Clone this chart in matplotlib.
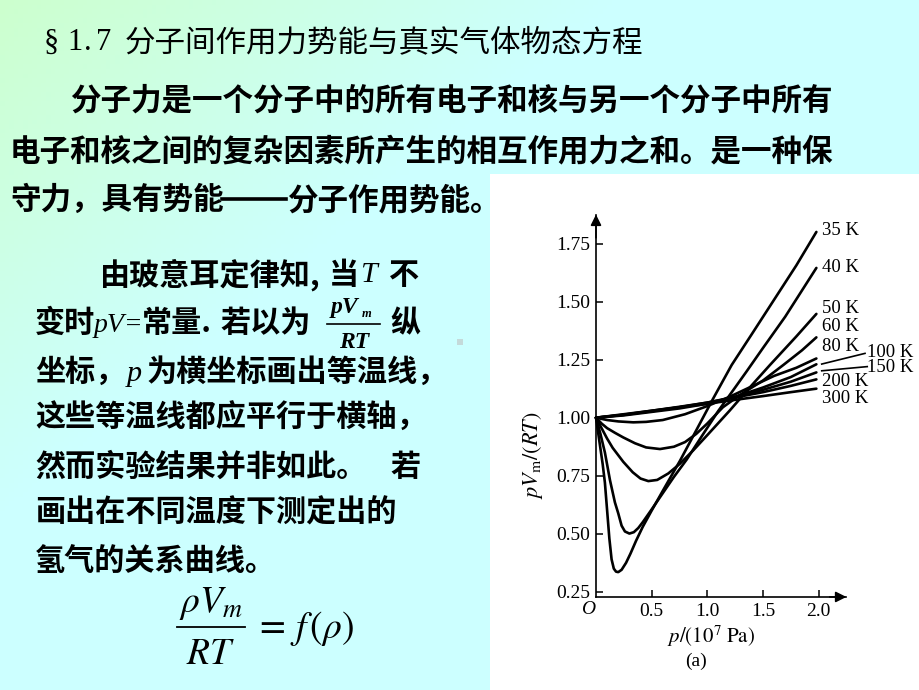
import numpy as np
import matplotlib
matplotlib.use("Agg")
import matplotlib.pyplot as plt
from matplotlib.patches import Rectangle
from matplotlib.lines import Line2D

plt.rcParams['font.family'] = ['Noto Sans CJK SC', 'DejaVu Sans']
plt.rcParams['mathtext.fontset'] = 'stix'

# ---------------- data ----------------
temps = ["35 K", "40 K", "50 K", "60 K", "80 K", "100 K", "150 K", "200 K", "300 K"]

p_35 = [0, 0.03, 0.06, 0.08, 0.10, 0.12, 0.14, 0.16, 0.18, 0.20, 0.23, 0.27, 0.31, 0.36, 0.42,
        0.50, 0.60, 0.755, 0.90, 1.05, 1.219, 1.40, 1.60, 1.80, 1.98]
z_35 = [1.0, 0.90, 0.80, 0.72, 0.60, 0.48, 0.39, 0.35, 0.337, 0.335, 0.345, 0.375, 0.415, 0.47, 0.53,
        0.60, 0.685, 0.815, 0.945, 1.08, 1.227, 1.36, 1.508, 1.656, 1.80]

p_40 = [0, 0.04, 0.08, 0.126, 0.17, 0.20, 0.23, 0.26, 0.30, 0.34, 0.38, 0.42, 0.50, 0.60, 0.70,
        0.815, 0.95, 1.10, 1.25, 1.354, 1.50, 1.70, 1.98]
z_40 = [1.0, 0.93, 0.85, 0.73, 0.635, 0.588, 0.535, 0.51, 0.501, 0.507, 0.525, 0.55, 0.605, 0.675, 0.745,
        0.82, 0.92, 1.03, 1.13, 1.20, 1.30, 1.435, 1.645]

p_50 = [0, 0.05, 0.10, 0.15, 0.245, 0.33, 0.40, 0.47, 0.55, 0.65, 0.75, 0.875, 1.0, 1.2, 1.4,
        1.563, 1.80, 1.98]
z_50 = [1.0, 0.955, 0.91, 0.87, 0.81, 0.765, 0.738, 0.727, 0.732, 0.76, 0.80, 0.86, 0.925, 1.03, 1.14,
        1.227, 1.35, 1.447]

p_60 = [0, 0.05, 0.10, 0.17, 0.245, 0.35, 0.45, 0.575, 0.70, 0.80, 0.90, 1.0, 1.14, 1.30, 1.50,
        1.683, 1.85, 1.98]
z_60 = [1.0, 0.975, 0.955, 0.935, 0.915, 0.89, 0.872, 0.865, 0.875, 0.895, 0.93, 0.975, 1.045, 1.10, 1.16,
        1.227, 1.29, 1.346]

p_80 = [0, 0.10, 0.20, 0.335, 0.45, 0.60, 0.80, 1.0, 1.2, 1.4, 1.6, 1.8, 1.98]
z_80 = [1.0, 0.99, 0.984, 0.98, 0.982, 0.99, 1.015, 1.05, 1.09, 1.135, 1.18, 1.215, 1.255]

p_hi = [0, 0.25, 0.50, 0.75, 1.0, 1.25, 1.50, 1.75, 1.98]
z_100 = [1.0, 1.01, 1.025, 1.04, 1.06, 1.09, 1.13, 1.175, 1.23]
z_150 = [1.0, 1.012, 1.028, 1.045, 1.065, 1.09, 1.12, 1.155, 1.195]
z_200 = [1.0, 1.013, 1.03, 1.047, 1.065, 1.087, 1.11, 1.137, 1.165]
z_300 = [1.0, 1.015, 1.03, 1.045, 1.06, 1.077, 1.093, 1.11, 1.125]

series = [(p_35, z_35), (p_40, z_40), (p_50, z_50), (p_60, z_60), (p_80, z_80),
          (p_hi, z_100), (p_hi, z_150), (p_hi, z_200), (p_hi, z_300)]

y_ticks = [0.25, 0.50, 0.75, 1.00, 1.25, 1.50, 1.75]
x_ticks = [0.5, 1.0, 1.5, 2.0]

# label anchor positions (data coords)
label_x = [2.03, 2.03, 2.03, 2.03, 2.03, 2.435, 2.435, 2.03, 2.03]
label_y = [1.808, 1.649, 1.472, 1.391, 1.305, 1.282, 1.215, 1.158, 1.081]

# ---------------- figure ----------------
W, H = 920, 690
fig = plt.figure(figsize=(9.2, 6.9), dpi=100)

def fx(x):
    return x / W

def fy(y):
    return 1 - y / H

# gradient background
bg = fig.add_axes([0, 0, 1, 1], zorder=-10)
gx, gy = np.meshgrid(np.linspace(0, 1, 200), np.linspace(0, 1, 150))
t = np.clip(1.5 * gx + 1.35 * gy, 0, 1)
c0 = np.array([204, 255, 206]) / 255.0
c1 = np.array([204, 255, 255]) / 255.0
img = c0[None, None, :] * (1 - t[..., None]) + c1[None, None, :] * t[..., None]
bg.imshow(img, aspect='auto', extent=[0, 1, 0, 1], origin='upper')
bg.set_xlim(0, 1)
bg.set_ylim(0, 1)
bg.axis('off')

# white panel for chart
fig.patches.append(Rectangle((fx(490), 0), 1 - fx(490), fy(174), transform=fig.transFigure,
                             facecolor='white', edgecolor='none', zorder=-5))
# small grey square
fig.patches.append(Rectangle((fx(457), fy(345)), 6 / W, 6 / H, transform=fig.transFigure,
                             facecolor='#c4dada', edgecolor='none', zorder=-4))

# ---------------- text ----------------
cjk = 22
wt = 'bold'
serif = ['Liberation Serif', 'DejaVu Serif']
fig.text(fx(44), fy(43), "§", fontsize=cjk, va='center', ha='left', family=serif)
fig.text(fx(67), fy(43), "1", fontsize=cjk, va='center', ha='left', family=serif)
fig.text(fx(84), fy(43), ".", fontsize=cjk, va='center', ha='left', family=serif)
fig.text(fx(96), fy(43), "7", fontsize=cjk, va='center', ha='left', family=serif)
fig.text(fx(125), fy(43), "分子间作用力势能与真实气体物态方程", fontsize=cjk, va='center', ha='left')
fig.text(fx(70), fy(100), "分子力是一个分子中的所有电子和核与另一个分子中所有", fontsize=cjk, va='center', ha='left', weight=wt)
fig.text(fx(10), fy(151), "电子和核之间的复杂因素所产生的相互作用力之和。是一种保", fontsize=cjk, va='center', ha='left', weight=wt)
fig.text(fx(10), fy(200), "守力，具有势能", fontsize=cjk, va='center', ha='left', weight=wt)
fig.add_artist(Line2D([fx(222), fx(286)], [fy(199), fy(199)], transform=fig.transFigure, color='k', lw=2.6))
fig.text(fx(287), fy(200), "分子作用势能。", fontsize=cjk, va='center', ha='left', weight=wt)

lc = 21.7
fig.text(fx(100), fy(275), "由玻意耳定律知,", fontsize=lc, va='center', ha='left', weight=wt)
fig.text(fx(329), fy(275), "当", fontsize=lc, va='center', ha='left', weight=wt)
fig.text(fx(360), fy(275), "T", fontsize=lc, va='center', ha='left', family=serif, style='italic')
fig.text(fx(389), fy(275), "不", fontsize=lc, va='center', ha='left', weight=wt)

fig.text(fx(35), fy(323), "变时", fontsize=lc, va='center', ha='left', weight=wt)
fig.text(fx(94), fy(325), "pV=", fontsize=20, va='center', ha='left', family=serif, style='italic')
fig.text(fx(142), fy(323), "常量.", fontsize=lc, va='center', ha='left', weight=wt)
fig.text(fx(220), fy(323), "若以为", fontsize=lc, va='center', ha='left', weight=wt)
fig.text(fx(331), fy(307), "pV", fontsize=17, va='center', ha='left', family=serif, style='italic', weight='bold')
fig.text(fx(362), fy(314), "m", fontsize=9, va='center', ha='left', family=serif, style='italic', weight='bold')
fig.add_artist(Line2D([fx(327), fx(380)], [fy(324), fy(324)], transform=fig.transFigure, color='k', lw=1.2))
fig.text(fx(354), fy(342), "RT", fontsize=17, va='center', ha='center', family=serif, style='italic', weight='bold')
fig.text(fx(390), fy(323), "纵", fontsize=lc, va='center', ha='left', weight=wt)

fig.text(fx(35), fy(372), "坐标，", fontsize=lc, va='center', ha='left', weight=wt)
fig.text(fx(127), fy(374), "p", fontsize=lc, va='center', ha='left', family=serif, style='italic')
fig.text(fx(147), fy(372), "为横坐标画出等温线，", fontsize=lc, va='center', ha='left', weight=wt)
fig.text(fx(35), fy(418), "这些等温线都应平行于横轴，", fontsize=lc, va='center', ha='left', weight=wt)
fig.text(fx(35), fy(467), "然而实验结果并非如此。", fontsize=lc, va='center', ha='left', weight=wt)
fig.text(fx(390), fy(467), "若", fontsize=lc, va='center', ha='left', weight=wt)
fig.text(fx(35), fy(513), "画出在不同温度下测定出的", fontsize=lc, va='center', ha='left', weight=wt)
fig.text(fx(35), fy(562), "氢气的关系曲线。", fontsize=lc, va='center', ha='left', weight=wt)

# formula
fig.text(fx(211), fy(603), r"$\rho V_{m}$", fontsize=27, va='center', ha='center')
fig.add_artist(Line2D([fx(177), fx(245)], [fy(627), fy(627)], transform=fig.transFigure, color='k', lw=1.3))
fig.text(fx(211), fy(654), r"$RT$", fontsize=27, va='center', ha='center')
fig.text(fx(254), fy(628), r"$=\,f\,(\rho)$", fontsize=27, va='center', ha='left')

# ---------------- chart ----------------
xmin, xmax = 0.0, 2.25
ymin, ymax = 0.228, 1.875
x0px, sx = 596.0, 111.3
y1px, sy = 417.7, 232.2
left = x0px / W
right_px = x0px + xmax * sx
bottom_px = y1px + (1 - ymin) * sy
top_px = y1px - (ymax - 1) * sy
ax = fig.add_axes([left, 1 - bottom_px / H, (right_px - x0px) / W, (bottom_px - top_px) / H])
ax.patch.set_alpha(0)
ax.set_xlim(xmin, xmax)
ax.set_ylim(ymin, ymax)
for s in ['top', 'right']:
    ax.spines[s].set_visible(False)
for s in ['left', 'bottom']:
    ax.spines[s].set_linewidth(1.2)

for (px, pz) in series:
    ax.plot(px, pz, color='black', lw=1.9, solid_capstyle='round', solid_joinstyle='round', clip_on=False)

for name, lx, ly in zip(temps, label_x, label_y):
    ax.text(lx, ly, name, fontsize=13.5, va='center', ha='left', family=serif, clip_on=False)

# leader lines for 100 K and 150 K
ax.plot([2.028, 2.417], [1.231, 1.277], color='black', lw=1.2, clip_on=False)
ax.plot([2.028, 2.437], [1.202, 1.220], color='black', lw=1.2, clip_on=False)

ax.set_yticks(y_ticks)
ax.set_yticklabels([f"{v:.2f}" for v in y_ticks])
ax.set_xticks(x_ticks)
ax.set_xticklabels([f"{v:.1f}" for v in x_ticks])
ax.tick_params(direction='in', length=5, width=1.1, labelsize=14, pad=4)
for lab in ax.get_xticklabels() + ax.get_yticklabels():
    lab.set_family(serif)

# arrows
ax.annotate('', xy=(xmax, ymin), xytext=(xmax - 0.15, ymin),
            arrowprops=dict(arrowstyle='-|>', color='k', lw=1.2, mutation_scale=16,
                            shrinkA=0, shrinkB=0), annotation_clip=False)
ax.annotate('', xy=(0, ymax), xytext=(0, ymax - 0.1),
            arrowprops=dict(arrowstyle='-|>', color='k', lw=1.2, mutation_scale=16,
                            shrinkA=0, shrinkB=0), annotation_clip=False)

fig.text(fx(588), fy(609), "O", fontsize=14, va='center', ha='center', family=serif, style='italic')
fig.text(fx(533), fy(455), r"$pV_{\mathrm{m}}/(RT)$", fontsize=16, va='center', ha='center', rotation=90)
fig.text(fx(711), fy(636), r"$p/(10^{7}\ \mathrm{Pa})$", fontsize=15, va='center', ha='center')
fig.text(fx(696), fy(661), "(a)", fontsize=14, va='center', ha='center', family=serif)

fig.savefig("out.png", dpi=100)
